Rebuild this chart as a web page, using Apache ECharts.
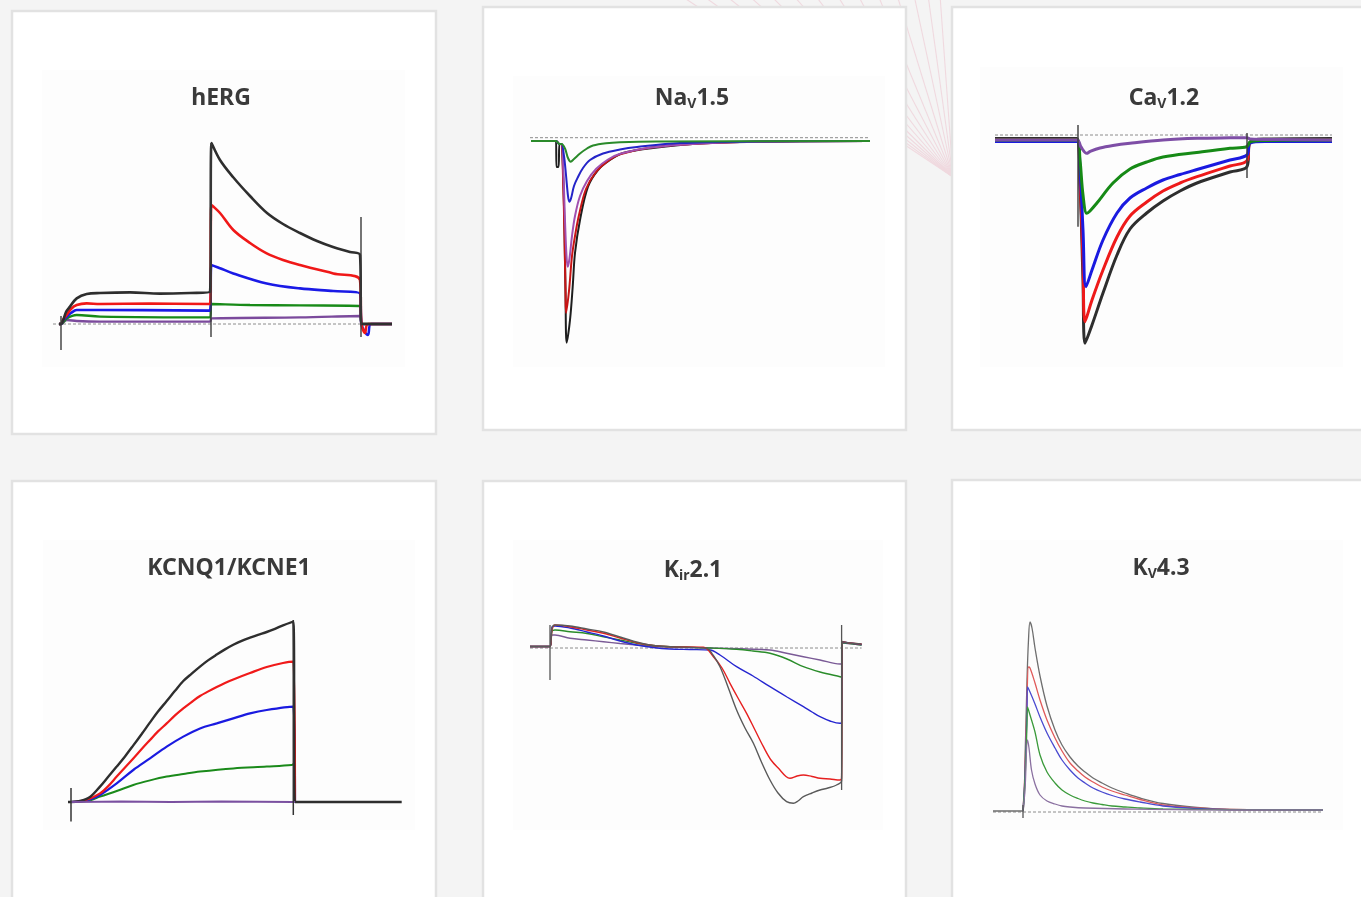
<!DOCTYPE html>
<html><head><meta charset="utf-8">
<script src="https://cdn.jsdelivr.net/npm/echarts/dist/echarts.min.js"></script>
<style>html,body{margin:0;padding:0;background:#f4f4f4;}#c{width:1361px;height:897px;}</style>
</head><body><div id="c"></div>
<script>
// ---------- DATA (time in ms, current in pA) ----------
const titles = ['{m|hERG}', '{m|Na}{s|V}{m|1.5}', '{m|Ca}{s|V}{m|1.2}', '{m|KCNQ1/KCNE1}', '{m|K}{s|ir}{m|2.1}', '{m|K}{s|V}{m|4.3}'];

// hERG
const hergBlack = [[-40,0],[0,0],[46,20],[100,60],[180,87],[314,128],[514,150],[780,155],[1380,158],[1980,152],[2580,155],[2980,160],[3010,905],[3180,820],[3440,735],[3780,640],[4120,555],[4440,500],[4780,455],[5120,415],[5440,385],[5780,360],[5980,345],[6010,0],[6620,0]];
const hergRed = [[-40,0],[0,0],[50,25],[114,45],[200,75],[314,95],[514,103],[780,100],[1780,102],[2980,100],[3010,595],[3180,555],[3446,470],[3780,405],[4114,353],[4440,320],[4780,295],[5446,253],[5980,220],[6010,0],[6080,-45],[6140,0],[6620,0]];
const hergBlue = [[-40,0],[0,0],[50,20],[114,36],[200,55],[314,70],[780,70],[2980,67],[3010,295],[3180,279],[3446,253],[4114,203],[4780,178],[5446,165],[5980,153],[6010,0],[6140,-55],[6200,0],[6620,0]];
const hergGreen = [[-40,0],[0,0],[114,28],[314,45],[780,37],[2980,33],[3010,100],[3780,95],[4780,93],[5980,90],[6010,0],[6620,0]];
const hergPurple = [[-40,0],[0,0],[114,20],[314,15],[780,12],[2980,12],[3010,28],[4780,33],[5980,40],[6010,0],[6620,0]];
const hergSteps = [[0,40,-130],[3000,905,-65],[6000,535,-65]];
const hergZero = [[-160,0],[6620,0]];

// Nav1.5
const navBlack = [[-2.5,0],[0,0],[0.05,-520],[0.25,-520],[0.35,-60],[0.55,-60],[0.6,-100],[0.75,-900],[0.85,-1800],[0.95,-3000],[1.07,-4034],[1.4,-3580],[1.67,-2914],[1.9,-2240],[2.4,-1580],[3.2,-914],[4.2,-580],[5.4,-380],[6.7,-240],[9.7,-140],[14.4,-50],[20,-15],[31.4,0]];
const navRed = [[-2.5,0],[0,0],[0.35,-60],[0.55,-60],[0.7,-700],[0.85,-1900],[0.95,-3000],[1.0,-3440],[1.3,-3000],[1.6,-2300],[1.9,-1900],[2.3,-1480],[3.0,-960],[4.0,-620],[5.2,-400],[6.5,-260],[9.5,-130],[14.4,-50],[20,-15],[31.4,0]];
const navPurple = [[-2.5,0],[0,0],[0.35,-60],[0.55,-60],[0.75,-700],[0.9,-1600],[1.05,-2300],[1.17,-2514],[1.35,-2350],[1.6,-1900],[1.9,-1500],[2.4,-1100],[3.1,-800],[4.0,-560],[5.2,-370],[6.5,-250],[9.5,-130],[14.4,-50],[20,-15],[31.4,0]];
const navBlue = [[-2.5,0],[0,0],[0.35,-60],[0.55,-60],[0.8,-300],[1.0,-680],[1.2,-1100],[1.33,-1214],[1.5,-1150],[1.8,-900],[2.2,-720],[2.7,-540],[3.4,-380],[4.7,-250],[6.4,-170],[8.1,-120],[12.4,-40],[20,-10],[31.4,0]];
const navGreen = [[-2.5,0],[0,0],[0.35,-60],[0.55,-60],[0.9,-150],[1.2,-340],[1.47,-414],[1.8,-360],[2.4,-250],[3.1,-150],[3.7,-90],[5,-45],[6.4,-25],[10,-10],[31.4,0]];
const navZero = [[-2.6,66],[31.4,66]];

// Cav1.2
const cavBlack = [[-83,-35],[-1,-35],[2,-500],[5,-1450],[7,-2083],[14,-1900],[25,-1580],[39,-1200],[52,-940],[68.7,-780],[85,-660],[102,-560],[119,-480],[152,-370],[169,-317],[172,-70],[187,-40],[254,-35]];
const cavRed = [[-83,-50],[-1,-50],[2,-450],[5,-1250],[7,-1867],[14,-1650],[25,-1350],[39,-1020],[52,-810],[68.7,-670],[85,-560],[102,-480],[119,-417],[152,-310],[169,-257],[172,-80],[187,-55],[254,-50]];
const cavBlue = [[-83,-65],[-1,-65],[2,-350],[5,-950],[8,-1517],[14,-1350],[25,-1050],[39,-780],[52,-630],[68.7,-530],[85,-450],[102,-395],[119,-345],[152,-250],[169,-200],[172,-80],[187,-65],[254,-65]];
const cavGreen = [[-83,-50],[-1,-50],[2,-250],[5,-600],[8.7,-783],[12,-760],[18.7,-683],[35,-480],[52,-340],[68.7,-270],[85,-220],[118.7,-175],[152,-133],[168.7,-117],[172,-70],[182,-55],[254,-50]];
const cavPurple = [[-83,-50],[-1,-50],[3,-120],[8.7,-183],[12,-165],[22,-130],[35,-105],[52,-83],[85,-50],[119,-33],[152,-28],[169,-27],[172,-40],[202,-45],[254,-50]];
const cavSteps = [[0,100,-917],[169,20,-430]];
const cavZero = [[-83,0],[254,0]];

// KCNQ1/KCNE1
const kcnqBlack = [[-30,0],[0,0],[90,5],[190,25],[290,77],[370,125],[457,177],[540,228],[623,283],[707,340],[790,398],[870,452],[957,505],[1040,556],[1123,605],[1207,642],[1290,677],[1370,708],[1457,737],[1540,763],[1623,786],[1707,806],[1790,822],[1870,836],[1957,850],[2040,866],[2120,883],[2223,902],[2240,0],[3307,0]];
const kcnqRed = [[0,0],[90,3],[190,18],[290,43],[370,78],[457,127],[540,173],[623,218],[707,265],[790,310],[870,353],[957,393],[1040,433],[1123,468],[1207,500],[1290,530],[1373,553],[1457,575],[1540,595],[1623,613],[1790,645],[1957,675],[2120,695],[2223,702],[2240,0]];
const kcnqBlue = [[0,0],[90,3],[190,13],[290,35],[457,93],[623,160],[790,218],[957,277],[1123,327],[1290,368],[1457,393],[1623,418],[1790,443],[1957,460],[2223,477],[2240,0]];
const kcnqGreen = [[0,0],[190,8],[290,27],[457,55],[623,85],[790,108],[957,127],[1123,140],[1290,152],[1623,168],[1957,177],[2207,185],[2223,190],[2240,0]];
const kcnqPurple = [[0,0],[500,2],[1000,0],[1500,2],[2223,0],[2240,0]];
const kcnqSteps = [[0,70,-98],[2223,910,-65]];

// Kir2.1
const kirBlack = [[-100,15],[0,15],[10,200],[25,230],[100,220],[185,190],[267,160],[350,110],[433,60],[515,25],[600,13],[783,-3],[815,-70],[850,-187],[890,-390],[933,-620],[975,-800],[1017,-953],[1055,-1130],[1100,-1320],[1140,-1450],[1183,-1537],[1217,-1553],[1240,-1530],[1267,-1487],[1310,-1450],[1350,-1420],[1390,-1400],[1433,-1370],[1458,-1330],[1462,65],[1500,50],[1558,40]];
const kirRed = [[-100,15],[0,15],[10,180],[25,230],[100,213],[185,180],[267,147],[350,100],[433,53],[515,25],[600,13],[767,7],[817,-87],[860,-200],[900,-353],[940,-500],[983,-653],[1025,-820],[1067,-987],[1105,-1120],[1150,-1220],[1180,-1285],[1200,-1303],[1235,-1280],[1267,-1270],[1310,-1285],[1350,-1303],[1400,-1310],[1450,-1320],[1458,-1300],[1462,65],[1500,50],[1558,40]];
const kirBlue = [[-100,15],[0,15],[10,210],[25,220],[100,200],[185,160],[267,120],[350,70],[433,30],[515,5],[600,-10],[700,-15],[800,-20],[850,-70],[933,-187],[1015,-280],[1100,-387],[1185,-490],[1267,-587],[1310,-640],[1350,-687],[1400,-730],[1450,-753],[1458,-750],[1462,60],[1558,35]];
const kirGreen = [[-100,15],[0,15],[10,170],[25,180],[100,163],[185,145],[267,113],[350,80],[433,47],[515,25],[600,13],[800,0],[933,-13],[1015,-30],[1100,-53],[1185,-110],[1267,-187],[1350,-240],[1450,-287],[1458,-290],[1462,55],[1558,30]];
const kirPurple = [[-100,15],[0,15],[10,130],[25,130],[100,97],[185,80],[267,63],[350,45],[433,30],[515,15],[600,10],[800,0],[1100,-20],[1183,-53],[1267,-87],[1350,-120],[1450,-160],[1458,-160],[1462,50],[1558,30]];
const kirSteps = [[0,230,-320],[1458,230,-1420]];
const kirZero = [[-100,0],[1558,0]];

// Kv4.3
const kvBlack = [[-60,10],[0,10],[4,520],[8,1320],[11,1720],[14,1900],[18,1840],[24,1640],[34,1360],[48,1060],[64,820],[78,670],[94,550],[110,460],[124,400],[140,340],[158,290],[178,240],[204,190],[234,140],[280,85],[348,45],[414,25],[600,20]];
const kvRed = [[0,10],[4,420],[8,1120],[11,1450],[14,1440],[24,1290],[34,1120],[48,920],[64,740],[78,610],[94,490],[110,410],[124,350],[140,300],[158,250],[178,210],[204,170],[234,125],[280,70],[348,40],[414,25],[600,20]];
const kvBlue = [[0,10],[4,370],[8,1000],[9,1250],[14,1200],[24,1080],[34,950],[48,790],[64,640],[78,520],[94,420],[110,340],[124,290],[140,240],[158,200],[178,165],[204,130],[234,100],[280,60],[348,35],[414,23],[600,20]];
const kvGreen = [[0,10],[4,320],[8,870],[9,1050],[14,970],[24,800],[34,570],[48,400],[64,290],[78,220],[94,170],[110,135],[124,110],[140,90],[158,75],[178,60],[204,50],[234,40],[280,30],[414,23],[600,20]];
const kvPurple = [[0,10],[4,220],[9,720],[12,640],[17,420],[24,280],[34,170],[48,110],[64,80],[78,60],[94,50],[124,40],[204,30],[414,20],[600,20]];
const kvSteps = [[0,70,-60]];
const kvZero = [[-60,0],[600,0]];

// ---------- CHART ----------
const chart = echarts.init(document.getElementById('c'), null, {renderer: 'canvas'});
const grids = [], xAxes = [], yAxes = [], series = [];
function addPanel(g, xr, yr) {
  const i = grids.length;
  grids.push({left: g[0], top: g[1], width: g[2], height: g[3], containLabel: false});
  xAxes.push({type: 'value', gridIndex: i, min: xr[0], max: xr[1], show: false});
  yAxes.push({type: 'value', gridIndex: i, min: yr[0], max: yr[1], show: false});
  return i;
}
function trace(i, data, color, width) {
  series.push({type: 'line', xAxisIndex: i, yAxisIndex: i, data: data, symbol: 'none', smooth: 0.35,
    lineStyle: {color: color, width: width}, z: 3, silent: true, animation: false});
}
function steps(i, arr, color, width) {
  arr.forEach(s => series.push({type: 'line', xAxisIndex: i, yAxisIndex: i, data: [[s[0], s[1]], [s[0], s[2]]],
    symbol: 'none', lineStyle: {color: color, width: width}, z: 4, silent: true, animation: false}));
}
function zero(i, data) {
  series.push({type: 'line', xAxisIndex: i, yAxisIndex: i, data: data, symbol: 'none',
    lineStyle: {color: '#8c8c8c', width: 1, type: [3, 2]}, z: 2, silent: true, animation: false});
}

// hERG
let p = addPanel([41, 124, 360, 240], [-400, 6800], [-200, 1000]);
zero(p, hergZero);
trace(p, hergPurple, '#7b4a9c', 2.4);
trace(p, hergGreen, '#188a18', 2.4);
trace(p, hergBlue, '#1a1ae6', 2.6);
trace(p, hergRed, '#f01818', 2.6);
trace(p, hergBlack, '#2e2e2e', 2.6);
steps(p, hergSteps, '#3a3a3a', 1.4);

// Nav1.5
p = addPanel([526, 126, 350, 230], [-3, 32], [-4300, 300]);
zero(p, navZero);
trace(p, navBlack, '#1e1e1e', 2);
trace(p, navRed, '#c81414', 2);
trace(p, navPurple, '#a050b0', 2);
trace(p, navBlue, '#2424c8', 2);
trace(p, navGreen, '#2a8a2a', 2);

// Cav1.2
p = addPanel([990, 125, 350, 230], [-88, 262], [-2200, 100]);
zero(p, cavZero);
trace(p, cavBlack, '#2e2e2e', 3);
trace(p, cavRed, '#ee1a1a', 3);
trace(p, cavBlue, '#1a1ae0', 3);
trace(p, cavGreen, '#168a16', 3);
trace(p, cavPurple, '#7e4ea6', 3);
steps(p, cavSteps, '#3a3a3a', 1.4);

// KCNQ1/KCNE1
p = addPanel([61, 600, 350, 230], [-100, 3400], [-140, 1010]);
trace(p, kcnqGreen, '#1a8a1a', 2.0);
trace(p, kcnqBlue, '#1a1ae0', 2.2);
trace(p, kcnqRed, '#f01a1a', 2.2);
trace(p, kcnqBlack, '#2e2e2e', 2.4);
trace(p, kcnqPurple, '#7a50a0', 2.0);
steps(p, kcnqSteps, '#333333', 1.5);

// Kir2.1
p = addPanel([525, 610, 345, 230], [-125, 1600], [-1920, 380]);
zero(p, kirZero);
trace(p, kirPurple, '#7a5a96', 1.4);
trace(p, kirGreen, '#2a8c2a', 1.4);
trace(p, kirBlue, '#2626d0', 1.4);
trace(p, kirRed, '#e62020', 1.4);
trace(p, kirBlack, '#5a5a5a', 1.4);
steps(p, kirSteps, '#555555', 1.3);

// Kv4.3
p = addPanel([985, 600, 350, 230], [-76, 624], [-180, 2120]);
zero(p, kvZero);
trace(p, kvBlack, '#6e6e6e', 1.3);
trace(p, kvRed, '#e05a5a', 1.3);
trace(p, kvBlue, '#4a4ad0', 1.3);
trace(p, kvGreen, '#3a9a3a', 1.3);
trace(p, kvPurple, '#8a70a0', 1.3);
steps(p, kvSteps, '#555555', 1.3);

// ---------- DECORATION ----------
const graphic = [];
// faint pink fan behind the panels
[680, 702, 725, 748, 770, 793, 815, 837, 858, 878, 897, 914, 928, 940].forEach(x0 => {
  graphic.push({type: 'line', z: 0, silent: true, shape: {x1: x0, y1: -5, x2: 953, y2: 177},
    style: {stroke: '#f0d9df', lineWidth: 1.1}});
});
const panelRects = [[12, 11, 424, 423], [483, 7, 423, 423], [952, 7, 430, 423], [12, 481, 424, 430], [483, 481, 423, 430], [952, 480, 430, 430]];
const innerRects = [[42, 70, 363, 297], [513, 76, 372, 291], [980, 67, 363, 300], [43, 540, 372, 290], [513, 540, 370, 290], [980, 540, 363, 290]];
panelRects.forEach(r => graphic.push({type: 'rect', z: 1, silent: true, shape: {x: r[0], y: r[1], width: r[2], height: r[3]},
  style: {fill: '#ffffff', stroke: '#e2e2e2', lineWidth: 2.5}}));
innerRects.forEach(r => graphic.push({type: 'rect', z: 1, silent: true, shape: {x: r[0], y: r[1], width: r[2], height: r[3]},
  style: {fill: '#fdfdfd'}}));
const titlePos = [[221, 99, 0], [692, 97, 1], [1164, 97, 1], [229, 569, 0], [693, 569, 1], [1161, 567, 1]];
const fam = '"Noto Sans", "DejaVu Sans", sans-serif';
titles.forEach((t, k) => {
  const tp = titlePos[k];
  graphic.push({type: 'text', z: 10, silent: true, x: tp[0], y: tp[1] + (tp[2] ? 2 : 0),
    style: {text: t, align: 'center', verticalAlign: 'middle',
      rich: {
        m: {fontSize: 23, fontWeight: 'bold', fontFamily: fam, fill: '#3a3a3a', lineHeight: 24, verticalAlign: 'top'},
        s: {fontSize: 14, fontWeight: 'bold', fontFamily: fam, fill: '#3a3a3a', lineHeight: 14, padding: [14, 0, 0, 0], verticalAlign: 'bottom'}
      }}});
});

chart.setOption({
  backgroundColor: '#f4f4f4',
  animation: false,
  grid: grids, xAxis: xAxes, yAxis: yAxes,
  graphic: {elements: graphic},
  series: series
});
</script></body></html>
